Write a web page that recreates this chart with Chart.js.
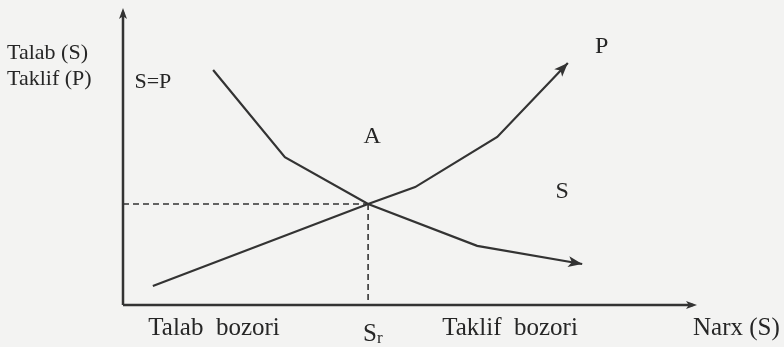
<!DOCTYPE html>
<html>
<head>
<meta charset="utf-8">
<script src="https://cdn.jsdelivr.net/npm/chart.js@4/dist/chart.umd.min.js"></script>
<style>
  html, body { margin: 0; padding: 0; background: #f3f3f2; }
  canvas { display: block; }
</style>
</head>
<body>
<canvas id="grafik" width="784" height="347"></canvas>
<script>
// sxematik birliklar: ikkala o'q 0..10
const talabX = [1.57, 2.82, 4.27, 6.17, 8.0];
const talabY = [7.91, 4.98, 3.40, 1.99, 1.38];
const taklifX = [0.52, 4.27, 5.09, 6.52, 7.75];
const taklifY = [0.64, 3.40, 3.97, 5.66, 8.15];
const muvozanat = { x: 4.27, y: 3.40 };

// yozuvlar: matn, x, y (birliklarda), o'lcham, joylashish
const yozuvlar = [
  { matn: 'Talab (S)', x: -2.02, y: 8.28, size: 22, align: 'left' },
  { matn: 'Taklif (P)', x: -2.02, y: 7.41, size: 22, align: 'left' },
  { matn: 'S=P', x: 0.2, y: 7.31, size: 22, align: 'left' },
  { matn: 'A', x: 4.34, y: 5.45, size: 24, align: 'center' },
  { matn: 'P', x: 8.34, y: 8.48, size: 24, align: 'center' },
  { matn: 'S', x: 7.65, y: 3.60, size: 24, align: 'center' },
  { matn: 'Talab  bozori', x: 0.44, y: -1.01, size: 25, align: 'left' },
  { matn: 'Taklif  bozori', x: 5.56, y: -1.01, size: 25, align: 'left' },
  { matn: 'Narx (S)', x: 9.93, y: -1.01, size: 25, align: 'left' }
];

const RANG = '#333333';
const MATN_RANG = '#262626';
const OILA = '"Liberation Serif", "DejaVu Serif", serif';

function juftlar(xs, ys) {
  return xs.map((x, i) => ({ x: x, y: ys[i] }));
}

function strelka(ctx, x1, y1, x2, y2, uz, en) {
  const a = Math.atan2(y2 - y1, x2 - x1);
  ctx.beginPath();
  ctx.moveTo(x2, y2);
  ctx.lineTo(x2 - uz * Math.cos(a) + en * Math.sin(a), y2 - uz * Math.sin(a) - en * Math.cos(a));
  ctx.lineTo(x2 - uz * Math.cos(a) * 0.75, y2 - uz * Math.sin(a) * 0.75);
  ctx.lineTo(x2 - uz * Math.cos(a) - en * Math.sin(a), y2 - uz * Math.sin(a) + en * Math.cos(a));
  ctx.closePath();
  ctx.fill();
}

const sxemaPlagin = {
  id: 'sxema',
  afterDatasetsDraw(chart) {
    const ctx = chart.ctx;
    const a = chart.chartArea;
    const sx = chart.scales.x, sy = chart.scales.y;
    ctx.save();
    ctx.strokeStyle = RANG;
    ctx.fillStyle = RANG;

    // o'qlar
    ctx.lineWidth = 2.5;
    ctx.beginPath();
    ctx.moveTo(a.left, a.bottom);
    ctx.lineTo(a.left, a.top + 4);
    ctx.moveTo(a.left, a.bottom);
    ctx.lineTo(a.right - 4, a.bottom);
    ctx.stroke();
    strelka(ctx, a.left, a.bottom, a.left, a.top, 11, 4);
    strelka(ctx, a.left, a.bottom, a.right, a.bottom, 11, 4);

    // muvozanat nuqtasidan uzuq chiziqlar
    const mx = sx.getPixelForValue(muvozanat.x);
    const my = sy.getPixelForValue(muvozanat.y);
    ctx.lineWidth = 1.6;
    ctx.setLineDash([6, 4]);
    ctx.beginPath();
    ctx.moveTo(a.left, my);
    ctx.lineTo(mx, my);
    ctx.moveTo(mx, my);
    ctx.lineTo(mx, a.bottom);
    ctx.stroke();
    ctx.setLineDash([]);

    // egri chiziqlar uchidagi strelkalar
    chart.data.datasets.forEach((ds, i) => {
      const pts = chart.getDatasetMeta(i).data;
      const p1 = pts[pts.length - 2], p2 = pts[pts.length - 1];
      strelka(ctx, p1.x, p1.y, p2.x, p2.y, 14, 5.5);
    });

    // yozuvlar
    ctx.fillStyle = MATN_RANG;
    ctx.textBaseline = 'alphabetic';
    yozuvlar.forEach(y => {
      ctx.font = y.size + 'px ' + OILA;
      ctx.textAlign = y.align;
      ctx.fillText(y.matn, sx.getPixelForValue(y.x), sy.getPixelForValue(y.y));
    });

    // S_r (pastki indeks bilan)
    const rx = sx.getPixelForValue(muvozanat.x) - 5;
    const ry = sy.getPixelForValue(-1.21);
    ctx.textAlign = 'left';
    ctx.font = '25px ' + OILA;
    ctx.fillText('S', rx, ry);
    const w = ctx.measureText('S').width;
    ctx.font = '17px ' + OILA;
    ctx.fillText('r', rx + w, ry + 2);
    ctx.restore();
  }
};

const ctx = document.getElementById('grafik').getContext('2d');
new Chart(ctx, {
  type: 'scatter',
  data: {
    datasets: [
      {
        label: 'Talab (S)',
        data: juftlar(talabX, talabY),
        showLine: true,
        borderColor: RANG,
        borderWidth: 2.2,
        pointRadius: 0,
        tension: 0
      },
      {
        label: 'Taklif (P)',
        data: juftlar(taklifX, taklifY),
        showLine: true,
        borderColor: RANG,
        borderWidth: 2.2,
        pointRadius: 0,
        tension: 0
      }
    ]
  },
  options: {
    responsive: false,
    devicePixelRatio: 1,
    animation: false,
    layout: { padding: { left: 123, right: 87, top: 8, bottom: 42 } },
    plugins: { legend: { display: false }, tooltip: { enabled: false } },
    scales: {
      x: { type: 'linear', min: 0, max: 10, display: false },
      y: { type: 'linear', min: 0, max: 10, display: false }
    }
  },
  plugins: [sxemaPlagin]
});
</script>
</body>
</html>
